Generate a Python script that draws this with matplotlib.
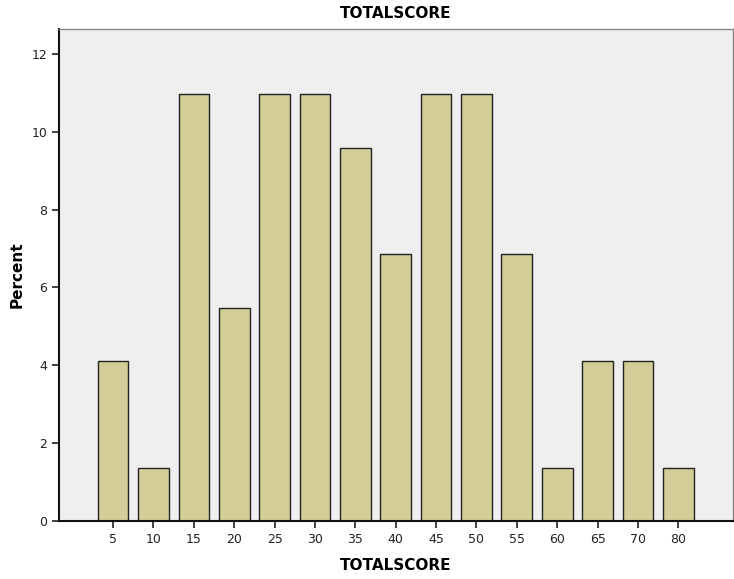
import numpy as np
import matplotlib.pyplot as plt

scores = ['5', '10', '15', '20', '25', '30', '35', '40', '45', '50',
          '55', '60', '65', '70', '80']
percent = [4.11, 1.37, 10.96, 5.48, 10.96, 10.96, 9.59, 6.85, 10.96, 10.96,
           6.85, 1.37, 4.11, 4.11, 1.37]

plt.rcParams['font.family'] = ['DejaVu Sans']

fig = plt.figure(figsize=(7.34, 5.79), dpi=100)
ax = fig.add_axes([0.0804, 0.1002, 0.918, 0.8498])
ax.set_facecolor('#efefef')

x = np.arange(len(scores))
ax.bar(x, percent, width=0.76, color='#d3ce97', edgecolor='#222222', linewidth=1.0, zorder=2)

ax.set_xlim(-1.34, len(scores) - 1 + 1.35)
ax.set_ylim(0, 12.64)
ax.set_xticks(x)
ax.set_xticklabels(scores, fontsize=9)
ax.set_yticks([0, 2, 4, 6, 8, 10, 12])
ax.tick_params(axis='both', direction='out', length=5, width=1.2, colors='#222222', labelsize=9)

for side in ['top', 'right']:
    ax.spines[side].set_color('#888888')
    ax.spines[side].set_linewidth(1.0)
for side in ['left', 'bottom']:
    ax.spines[side].set_color('#111111')
    ax.spines[side].set_linewidth(1.5)

ax.set_title('TOTALSCORE', fontsize=11, fontweight='bold', pad=8)
ax.set_xlabel('TOTALSCORE', fontsize=11, fontweight='bold', labelpad=9)
ax.set_ylabel('Percent', fontsize=11, fontweight='bold', labelpad=5)

fig.savefig('out.png', dpi=100)
